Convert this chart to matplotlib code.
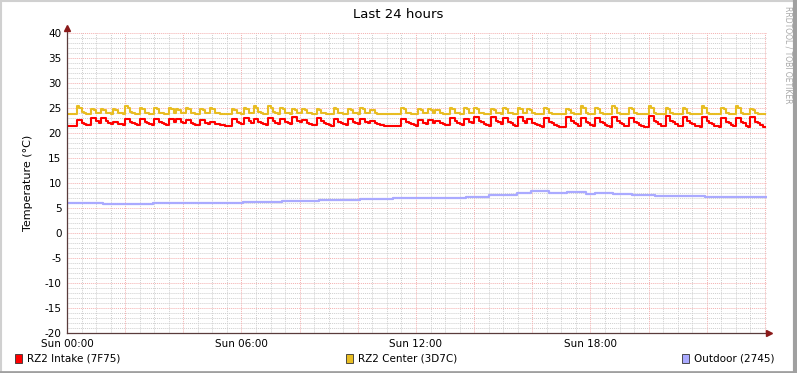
import numpy as np
import matplotlib
matplotlib.use("Agg")
import matplotlib.pyplot as plt
from matplotlib.patches import Rectangle
from matplotlib.lines import Line2D

W, H = 797, 373

# ---- data (hours since Sun 00:00, °C) ----
spike_hours = [0.34, 0.86, 1.17, 1.55, 2.00, 2.51, 2.99, 3.51, 3.71, 4.06, 4.57, 4.95,
               5.64, 6.05, 6.39, 6.88, 7.32, 7.74, 8.12, 8.56, 9.15, 9.70, 10.11, 10.42,
               11.49, 12.07, 12.38, 12.69, 13.17, 13.69, 14.03, 14.55, 14.99, 15.47, 15.85,
               16.44, 17.19, 17.68, 18.19, 18.74, 19.33, 19.98, 20.57, 21.15, 21.80, 22.52,
               23.04, 23.52]
intake_peaks = [22.6, 23.1, 23.1, 22.3, 22.8, 22.8, 22.8, 22.8, 22.8, 22.6, 22.6, 22.3,
                22.8, 23.1, 22.8, 23.1, 22.8, 23.2, 22.6, 23.1, 22.8, 22.8, 22.8, 22.4,
                22.8, 22.6, 22.6, 22.4, 23.1, 22.8, 23.3, 23.3, 23.1, 23.3, 22.8,
                23.1, 23.3, 23.1, 23.1, 23.3, 23.1, 23.5, 23.5, 23.3, 23.3, 23.1,
                23.1, 23.3]
center_peaks = [25.4, 24.9, 24.9, 24.9, 25.4, 25.1, 25.1, 25.1, 24.9, 25.1, 24.9, 25.1,
                24.9, 25.1, 25.4, 25.4, 25.1, 24.9, 24.9, 24.9, 25.1, 24.9, 25.1, 24.7,
                25.1, 24.9, 24.9, 24.7, 25.1, 25.1, 25.1, 24.9, 25.1, 25.1, 24.9,
                25.1, 24.9, 25.4, 25.1, 25.4, 25.1, 25.4, 25.1, 25.1, 25.4, 25.1,
                25.4, 24.9]
intake_base_hours = [0.0, 15.0, 23.3]
intake_base_vals = [21.4, 21.2, 21.0]
center_base_hours = [0.0, 16.0]
center_base_vals = [23.85, 23.75]

outdoor_hours = [0.0, 1.24, 2.96, 4.54, 6.05, 7.39, 8.66, 10.07, 11.21, 12.14, 12.93,
                 13.72, 14.51, 15.47, 15.95, 16.57, 17.19, 17.85, 18.16, 18.77, 19.43,
                 20.22, 21.94, 24.05]
outdoor_vals = [6.0, 5.8, 6.0, 5.95, 6.2, 6.4, 6.6, 6.8, 7.1, 7.0, 6.95, 7.2, 7.6, 8.1,
                8.4, 8.1, 8.15, 7.8, 8.0, 7.8, 7.6, 7.4, 7.3, 7.3]

legend_labels = ["RZ2 Intake (7F75)", "RZ2 Center (3D7C)", "Outdoor (2745)"]
colors = ["#ff0000", "#e8bd22", "#aaaaff"]
x_tick_hours = [0, 6, 12, 18]
x_tick_labels = ["Sun 00:00", "Sun 06:00", "Sun 12:00", "Sun 18:00"]

# 5 minute rrd steps
t = np.arange(0, 24.05, 1 / 12)


def build(base_h, base_v, peaks, shape):
    idx = np.searchsorted(base_h, t, side="right") - 1
    base = np.array(base_v)[idx]
    bump = np.zeros_like(t)
    for h, p in zip(spike_hours, peaks):
        i0 = int(round(h * 12))
        amp = p - base[min(i0, len(t) - 1)]
        for k, f in enumerate(shape):
            if i0 + k < len(t):
                bump[i0 + k] = max(bump[i0 + k], amp * f)
    return base + bump


intake = build(intake_base_hours, intake_base_vals, intake_peaks,
               [1.0, 1.0, 0.55, 0.4, 0.25, 0.12, 0.05])
center = build(center_base_hours, center_base_vals, center_peaks,
               [1.0, 0.8, 0.2, 0.05])

fig = plt.figure(figsize=(W / 100, H / 100), dpi=100, facecolor="white")
x0, x1, y0, y1 = 67, 767, 33, 333
ax = fig.add_axes([x0 / W, 1 - y1 / H, (x1 - x0) / W, (y1 - y0) / H])
ax.set_xlim(0, 24 * 700 / 698)
ax.set_ylim(-20, 40)
for s in ax.spines.values():
    s.set_visible(False)

# grid, rrdtool style
for v in range(-20, 41):
    if v % 5:
        ax.axhline(v, color="#cfcfcf", lw=0.7, ls=(0, (1, 1)), zorder=0)
for h in np.arange(0.5, 24.1, 0.5):
    if h % 2:
        ax.axvline(h, color="#cfcfcf", lw=0.7, ls=(0, (1, 1)), zorder=0)
for v in range(-20, 41, 5):
    ax.axhline(v, color="#f4b0b0", lw=0.7, ls=(0, (1, 1)), zorder=0.5)
for h in range(0, 25, 2):
    ax.axvline(h, color="#f4b0b0", lw=0.7, ls=(0, (1, 1)), zorder=0.5)

ax.plot(t, intake, color=colors[0], lw=1.5, drawstyle="steps-post", zorder=3)
ax.plot(t, center, color=colors[1], lw=1.5, drawstyle="steps-post", zorder=2)
ax.plot(outdoor_hours, outdoor_vals, color=colors[2], lw=1.6,
        drawstyle="steps-post", zorder=2)

ax.set_yticks(range(-20, 41, 5))
ax.set_yticklabels([str(v) for v in range(-20, 41, 5)], fontsize=7.5)
ax.set_xticks(x_tick_hours)
ax.set_xticklabels(x_tick_labels, fontsize=7.5)
ax.tick_params(axis="y", length=0, pad=4)
ax.tick_params(axis="x", length=0, pad=4.5)
ax.set_ylabel("Temperature (°C)", fontsize=8, labelpad=8)

# axes with arrow heads
axc = "#5a3c3c"
ax.plot([0, 0], [-20, 41], color=axc, lw=0.9, clip_on=False, zorder=4)
ax.plot([0, 24.15], [-20, -20], color=axc, lw=0.9, clip_on=False, zorder=4)
ax.plot(0, 41, marker="^", ms=4, color="#8b1a1a", clip_on=False, zorder=5)
ax.plot(24.15, -20, marker=">", ms=4, color="#8b1a1a", clip_on=False, zorder=5)

fig.text(398 / W, 1 - 14 / H, "Last 24 hours", ha="center", va="center", fontsize=9.5)
fig.text(788 / W, 1 - 6 / H, "RRDTOOL / TOBI OETIKER", rotation=270, ha="center",
         va="top", fontsize=5.5, color="#a8a8a8")

# legend
for lx, lab, c in zip([15, 346, 682], legend_labels, colors):
    fig.add_artist(Rectangle((lx / W, 1 - 363 / H), 7 / W, 9 / H,
                             transform=fig.transFigure, facecolor=c,
                             edgecolor="#333333", lw=0.6))
    fig.text((lx + 12) / W, 1 - 358.5 / H, lab, ha="left", va="center", fontsize=7.5)

# frame
fig.add_artist(Line2D([0, 1], [1 - 1 / H, 1 - 1 / H], transform=fig.transFigure,
                      color="#d0d0d0", lw=1.5))
fig.add_artist(Line2D([1 / W, 1 / W], [0, 1], transform=fig.transFigure,
                      color="#d0d0d0", lw=1.5))
fig.add_artist(Line2D([1 - 2 / W, 1 - 2 / W], [0, 1], transform=fig.transFigure,
                      color="#a0a0a0", lw=3))
fig.add_artist(Line2D([0, 1], [1.5 / H, 1.5 / H], transform=fig.transFigure,
                      color="#a0a0a0", lw=2))

fig.savefig("out.png", dpi=100, facecolor="white")
